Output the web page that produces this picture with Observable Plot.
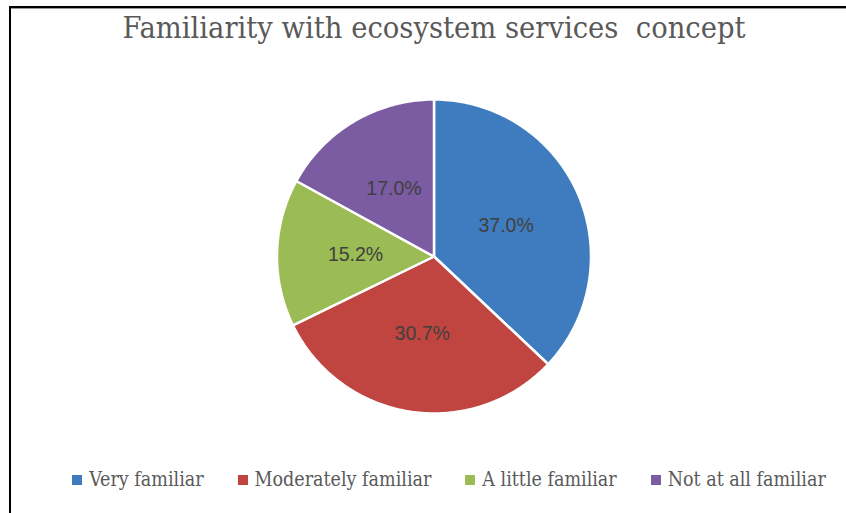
<!DOCTYPE html>
<html>
<head>
<meta charset="utf-8">
<script src="https://cdn.jsdelivr.net/npm/d3@7"></script>
<script src="https://cdn.jsdelivr.net/npm/@observablehq/plot@0.6"></script>
<style>
  html, body { margin: 0; padding: 0; background: #fff; }
  #wrap { position: relative; width: 846px; height: 513px; overflow: hidden; background: #fff; }
  #frame { position: absolute; left: 9px; top: 6px; width: 900px; height: 600px;
           border-top: 2px solid #000; border-left: 2px solid #000; box-shadow: inset 0 1px 0 #999; }
  #title { position: absolute; left: 0; top: 10px; width: 868px; text-align: center;
           font-family: "DejaVu Serif Condensed", "DejaVu Serif", serif; font-stretch: condensed;
           font-size: 30.5px; color: #595959; line-height: 36px; white-space: pre; }
  #chart { position: absolute; left: 0; top: 0; }
  #legend { position: absolute; left: 0; top: 468px; width: 898px; display: flex; justify-content: center;
            font-family: "DejaVu Serif Condensed", "DejaVu Serif", serif; font-stretch: condensed;
            font-size: 19.5px; color: #595959; line-height: 24px; }
  .item { display: flex; align-items: center; margin: 0 17px; }
  .sw { width: 10px; height: 10px; margin-right: 7px; }
</style>
</head>
<body>
<div id="wrap">
  <div id="frame"></div>
  <div id="chart"></div>
  <div id="title">Familiarity with ecosystem services  concept</div>
  <div id="legend"></div>
</div>
<script>
const categories = ["Very familiar", "Moderately familiar", "A little familiar", "Not at all familiar"];
const values = [37.0, 30.7, 15.2, 17.0];
const labels = ["37.0%", "30.7%", "15.2%", "17.0%"];
const colors = ["#3F7CBF", "#C0443F", "#9BBB55", "#7B5BA1"];

const data = categories.map((c, i) => ({category: c, value: values[i], label: labels[i]}));
const arcs = d3.pie().sort(null).value(d => d.value)(data);

// polygon outline of each slice in unit-circle coordinates (angle 0 = top, clockwise)
const pts = [];
for (const a of arcs) {
  const c = a.data.category;
  pts.push({category: c, x: 0, y: 0});
  const n = Math.max(2, Math.ceil((a.endAngle - a.startAngle) / 0.01));
  for (let k = 0; k <= n; k++) {
    const t = a.startAngle + (a.endAngle - a.startAngle) * k / n;
    pts.push({category: c, x: Math.sin(t), y: Math.cos(t)});
  }
  pts.push({category: c, x: 0, y: 0});
}
const labelPts = arcs.map(a => {
  const t = (a.startAngle + a.endAngle) / 2;
  return {label: a.data.label, x: 0.5 * Math.sin(t), y: 0.5 * Math.cos(t)};
});

const cx = 433.5, cy = 256, r = 157;
const W = 846, H = 513;
const plot = Plot.plot({
  width: W, height: H,
  marginLeft: cx - r, marginRight: W - (cx + r),
  marginTop: cy - r, marginBottom: H - (cy + r),
  x: {domain: [-1, 1], axis: null},
  y: {domain: [-1, 1], axis: null},
  color: {domain: categories, range: colors},
  style: {background: "transparent", overflow: "visible"},
  marks: [
    Plot.line(pts, {x: "x", y: "y", z: "category", fill: "category", stroke: "#fff", strokeWidth: 2.5, strokeLinejoin: "round", curve: "linear"}),
    Plot.text(labelPts, {x: "x", y: "y", text: "label", fill: "#404040", fontSize: 19.5,
      fontFamily: "Liberation Sans, Arial, sans-serif"})
  ]
});
document.getElementById("chart").appendChild(plot);

const legend = document.getElementById("legend");
categories.forEach((c, i) => {
  const it = document.createElement("div");
  it.className = "item";
  const sw = document.createElement("div");
  sw.className = "sw";
  sw.style.background = colors[i];
  const tx = document.createElement("span");
  tx.textContent = c;
  it.appendChild(sw); it.appendChild(tx);
  legend.appendChild(it);
});
</script>
</body>
</html>
